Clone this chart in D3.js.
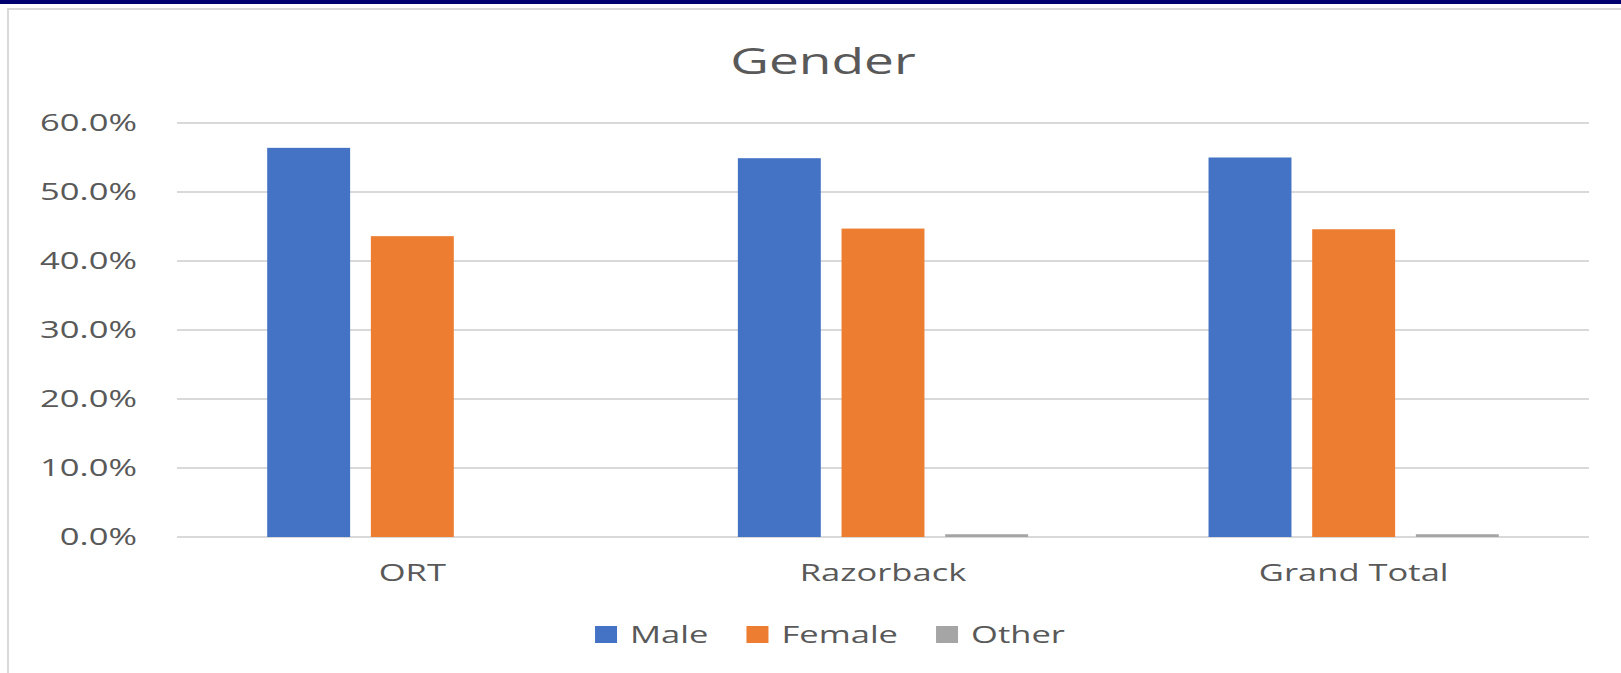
<!DOCTYPE html>
<html>
<head>
<meta charset="utf-8">
<script src="https://cdn.jsdelivr.net/npm/d3@7"></script>
<style>
  body { margin: 0; background: #fff; }
  text { font-family: "Open Sans", "DejaVu Sans", sans-serif; fill: #595959; }
</style>
</head>
<body>
<div id="chart"></div>
<script>
var width = 1621,
    height = 673;

// data
var categories = ["ORT", "Razorback", "Grand Total"];
var seriesNames = ["Male", "Female", "Other"];
var maleValues = [0.564, 0.549, 0.550];
var femaleValues = [0.436, 0.447, 0.446];
var otherValues = [0.000, 0.004, 0.004];
var yTicks = [0, 0.1, 0.2, 0.3, 0.4, 0.5, 0.6];
var colors = ["#4472C4", "#ED7D31", "#A5A5A5"];

var seriesValues = [maleValues, femaleValues, otherValues];

// text looks stretched sideways in the reference
var stretch = 1.44;

var svg = d3.select("#chart")
    .append("svg")
    .attr("width", width)
    .attr("height", height);

// top navy band + chart frame
svg.append("rect")
    .attr("x", 0).attr("y", 0)
    .attr("width", width).attr("height", 4)
    .attr("fill", "#00006e");

svg.append("rect")
    .attr("x", 8).attr("y", 9)
    .attr("width", 1700).attr("height", 800)
    .attr("fill", "none")
    .attr("stroke", "#d9d9d9")
    .attr("stroke-width", 2);

function addText(parent, str, x, y, size, anchor, spacing) {
    return parent.append("text")
        .attr("transform", "translate(" + x + "," + y + ") scale(" + stretch + ",1)")
        .attr("text-anchor", anchor)
        .style("font-size", size + "px")
        .style("letter-spacing", (spacing || 0) + "px")
        .text(str);
}

var x0 = d3.scaleBand()
    .domain(categories)
    .range([177, 1589]);

var x1 = d3.scaleBand()
    .domain(seriesNames)
    .range([0, x0.bandwidth()])
    .paddingInner(0.2)
    .paddingOuter(0.87);

var y = d3.scaleLinear()
    .domain([0, 0.6])
    .range([537, 123]);

var fmt = d3.format(".1%");

// gridlines
svg.append("g")
    .selectAll("line")
    .data(yTicks)
    .enter()
    .append("line")
    .attr("x1", 177)
    .attr("x2", 1589)
    .attr("y1", function (d) { return y(d); })
    .attr("y2", function (d) { return y(d); })
    .attr("stroke", "#d9d9d9")
    .attr("stroke-width", 2);

// y labels
var yLab = svg.append("g");
yTicks.forEach(function (t) {
    addText(yLab, fmt(t), 137, y(t) + 8, 24, "end");
});

// bars
var groups = svg.append("g")
    .selectAll("g")
    .data(categories)
    .enter()
    .append("g")
    .attr("transform", function (d) { return "translate(" + x0(d) + ",0)"; });

groups.selectAll("rect")
    .data(function (d, i) {
        return seriesNames.map(function (s, j) {
            return { key: s, value: seriesValues[j][i], color: colors[j] };
        });
    })
    .enter()
    .append("rect")
    .attr("x", function (d) { return x1(d.key); })
    .attr("y", function (d) { return y(d.value); })
    .attr("width", x1.bandwidth())
    .attr("height", function (d) { return y(0) - y(d.value); })
    .attr("fill", function (d) { return d.color; });

// category labels
var xLab = svg.append("g");
categories.forEach(function (c) {
    addText(xLab, c, x0(c) + x0.bandwidth() / 2, 581, 24, "middle");
});

// title
addText(svg, "Gender", 823, 74, 37, "middle");

// legend
var legend = svg.append("g");
var cursor = 0;
seriesNames.forEach(function (s, i) {
    var it = legend.append("g");
    it.append("rect")
        .attr("x", 0).attr("y", -17)
        .attr("width", 22).attr("height", 17)
        .attr("fill", colors[i]);
    var t = addText(it, s, 35, 0, 24, "start");
    var w = 35 + t.node().getComputedTextLength() * stretch;
    it.attr("transform", "translate(" + cursor + ",0)");
    cursor += w + 38;
});
cursor -= 38;
legend.attr("transform", "translate(" + (830 - cursor / 2) + ",643)");
</script>
</body>
</html>
